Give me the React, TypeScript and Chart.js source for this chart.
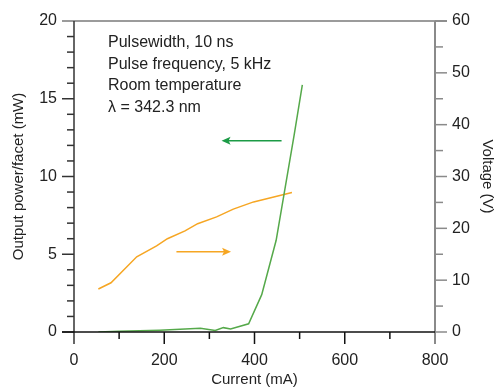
import React, { useEffect, useRef } from "react";
import { Chart, registerables } from "chart.js";
Chart.register(...registerables);

const currentV = [54, 82, 139, 183, 207, 246, 274, 316, 353, 398, 483];
const voltage = [8.3, 9.5, 14.5, 16.6, 18.0, 19.5, 20.9, 22.2, 23.7, 25.1, 26.9];
const currentP = [54, 100, 190, 280, 313, 331, 347, 387, 416, 448, 488, 506];
const power = [0, 0.05, 0.12, 0.24, 0.1, 0.28, 0.2, 0.53, 2.4, 5.9, 12.7, 15.9];
const infoLines = ["Pulsewidth, 10 ns", "Pulse frequency, 5 kHz", "Room temperature", "λ = 342.3 nm"];
// arrows: [x1, x2, y] in data units
const greenArrow = [460, 327, 12.3];
const orangeArrow = [227, 348, 15.5];

const FONT = "'Liberation Sans Narrow', 'Arial Narrow', 'Liberation Sans', sans-serif";
const GREEN = "#55a94a";
const ARROW_GREEN = "#1c9b46";
const ORANGE = "#f6a623";

const decor = {
  id: "decor",
  afterDraw(chart: any) {
    const ctx = chart.ctx;
    const { left, right, top, bottom } = chart.chartArea;
    const x = chart.scales.x, y = chart.scales.y, y2 = chart.scales.y2;
    ctx.save();
    ctx.lineCap = "butt";
    // top border
    ctx.strokeStyle = "#7a7a7a";
    ctx.lineWidth = 1.5;
    ctx.beginPath(); ctx.moveTo(left - 12, top); ctx.lineTo(right + 12, top); ctx.stroke();
    // right axis
    ctx.strokeStyle = "#8a8a8a";
    ctx.lineWidth = 2;
    ctx.beginPath(); ctx.moveTo(right, top); ctx.lineTo(right, bottom + 12); ctx.stroke();
    ctx.lineWidth = 1.5;
    for (let v = 0; v <= 60; v += 5) {
      const py = y2.getPixelForValue(v);
      const len = v % 10 === 0 ? 12 : 8;
      ctx.beginPath(); ctx.moveTo(right, py); ctx.lineTo(right + len, py); ctx.stroke();
    }
    // left axis
    ctx.strokeStyle = "#333";
    ctx.lineWidth = 1.5;
    ctx.beginPath(); ctx.moveTo(left, top); ctx.lineTo(left, bottom + 12); ctx.stroke();
    for (let v = 0; v <= 19; v += 1) {
      const py = y.getPixelForValue(v);
      const len = v % 5 === 0 ? 12 : 7;
      ctx.beginPath(); ctx.moveTo(left, py); ctx.lineTo(left - len, py); ctx.stroke();
    }
    // bottom axis
    ctx.strokeStyle = "#111";
    ctx.beginPath(); ctx.moveTo(left - 12, bottom); ctx.lineTo(right, bottom); ctx.stroke();
    for (let v = 100; v < 800; v += 100) {
      const px = x.getPixelForValue(v);
      const len = v % 200 === 0 ? 12 : 7;
      ctx.beginPath(); ctx.moveTo(px, bottom); ctx.lineTo(px, bottom + len); ctx.stroke();
    }
    // arrows
    const arrow = (x1: number, x2: number, py: number, color: string) => {
      const p1 = x.getPixelForValue(x1), p2 = x.getPixelForValue(x2);
      const dir = Math.sign(p2 - p1);
      ctx.strokeStyle = color; ctx.fillStyle = color; ctx.lineWidth = 1.5;
      ctx.beginPath(); ctx.moveTo(p1, py); ctx.lineTo(p2 - dir * 6, py); ctx.stroke();
      ctx.beginPath();
      ctx.moveTo(p2, py);
      ctx.lineTo(p2 - dir * 9, py - 4);
      ctx.lineTo(p2 - dir * 7, py);
      ctx.lineTo(p2 - dir * 9, py + 4);
      ctx.closePath(); ctx.fill();
    };
    arrow(greenArrow[0], greenArrow[1], y.getPixelForValue(greenArrow[2]), ARROW_GREEN);
    arrow(orangeArrow[0], orangeArrow[1], y2.getPixelForValue(orangeArrow[2]), ORANGE);
    // info text
    ctx.fillStyle = "#222";
    ctx.font = `16px ${FONT}`;
    ctx.textBaseline = "middle";
    ctx.textAlign = "left";
    infoLines.forEach((t, i) => ctx.fillText(t, left + 34, top + 22 + i * 21.5));
    ctx.restore();
  },
};

export default function App() {
  const ref = useRef<HTMLCanvasElement>(null);
  useEffect(() => {
    const tickFont = { family: FONT, size: 16 };
    const titleFont = { family: FONT, size: 15 };
    const chart = new Chart(ref.current!, {
      type: "line",
      data: {
        datasets: [
          {
            data: currentP.map((c, i) => ({ x: c, y: power[i] })),
            borderColor: GREEN, borderWidth: 1.5, pointRadius: 0, yAxisID: "y", tension: 0,
          },
          {
            data: currentV.map((c, i) => ({ x: c, y: voltage[i] })),
            borderColor: ORANGE, borderWidth: 1.5, pointRadius: 0, yAxisID: "y2", tension: 0,
          },
        ],
      },
      options: {
        animation: false,
        responsive: false,
        layout: { padding: { top: 21, left: 0, right: 0, bottom: 0 } },
        plugins: { legend: { display: false }, tooltip: { enabled: false } },
        scales: {
          x: {
            type: "linear", min: 0, max: 800,
            border: { display: false },
            grid: { display: false, drawTicks: false },
            ticks: { stepSize: 200, color: "#222", font: tickFont, padding: 19, maxRotation: 0 },
            title: { display: true, text: "Current (mA)", color: "#222", font: titleFont, padding: { top: 0, bottom: 0 } },
            afterFit: (s: any) => { s.height = 57; s.paddingLeft = 0; s.paddingRight = 0; },
          },
          y: {
            type: "linear", position: "left", min: 0, max: 20,
            border: { display: false },
            grid: { display: false, drawTicks: false },
            ticks: { stepSize: 5, color: "#222", font: tickFont, padding: 17 },
            title: { display: true, text: "Output power/facet (mW)", color: "#222", font: titleFont, padding: { top: 10, bottom: 0 } },
            afterFit: (s: any) => { s.width = 74; s.paddingTop = 0; s.paddingBottom = 0; },
          },
          y2: {
            type: "linear", position: "right", min: 0, max: 60,
            border: { display: false },
            grid: { display: false, drawTicks: false },
            ticks: { stepSize: 10, color: "#222", font: tickFont, padding: 17 },
            title: { display: true, text: "Voltage (V)", color: "#222", font: titleFont, padding: { top: 0, bottom: 0 } },
            afterFit: (s: any) => { s.width = 61; s.paddingTop = 0; s.paddingBottom = 0; },
          },
        },
      },
      plugins: [decor],
    } as any);
    return () => chart.destroy();
  }, []);
  return (
    <div style={{ position: "absolute", left: 0, top: 0, width: 496, height: 389, background: "#fff" }}>
      <canvas ref={ref} width={496} height={389} style={{ width: 496, height: 389 }} />
    </div>
  );
}
